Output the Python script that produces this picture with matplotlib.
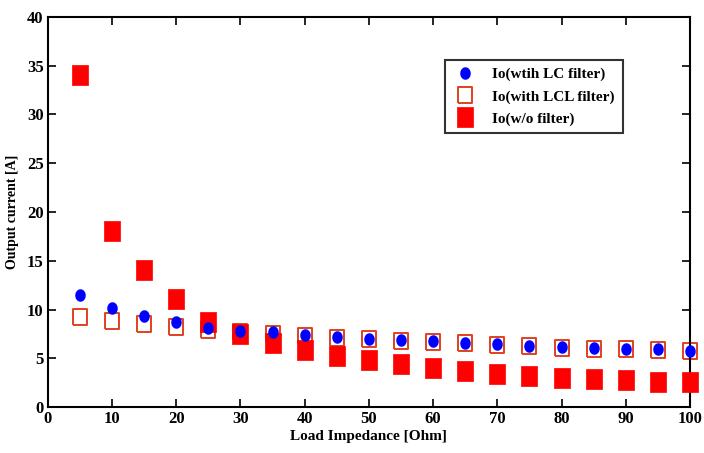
import matplotlib
matplotlib.use("Agg")
import matplotlib.pyplot as plt
import numpy as np

impedance = [5, 10, 15, 20, 25, 30, 35, 40, 45, 50, 55, 60, 65, 70, 75, 80, 85, 90, 95, 100]
io_lc = [11.5, 10.2, 9.3, 8.7, 8.1, 7.8, 7.7, 7.4, 7.2, 7.0, 6.85, 6.75, 6.6, 6.45, 6.3, 6.15, 6.05, 5.95, 5.9, 5.75]
io_lcl = [9.2, 8.8, 8.5, 8.2, 7.9, 7.7, 7.5, 7.3, 7.1, 6.95, 6.8, 6.7, 6.55, 6.4, 6.25, 6.1, 6.0, 5.9, 5.8, 5.7]
io_wo = [34.0, 18.05, 14.05, 11.1, 8.7, 7.5, 6.6, 5.85, 5.2, 4.8, 4.4, 4.0, 3.7, 3.4, 3.2, 3.0, 2.9, 2.75, 2.6, 2.55]

labels = ["Io(wtih LC filter)", "Io(with LCL filter)", "Io(w/o filter)"]
xticks = [0, 10, 20, 30, 40, 50, 60, 70, 80, 90, 100]
yticks = [0, 5, 10, 15, 20, 25, 30, 35, 40]

plt.rcParams['font.family'] = ['Liberation Serif', 'DejaVu Serif']
plt.rcParams['font.weight'] = 'bold'

fig = plt.figure(figsize=(7.04, 4.53), dpi=100)
ax = fig.add_axes([0.068, 0.1015, 0.912, 0.861])

rect_open = [(-0.41, -0.5), (0.41, -0.5), (0.41, 0.5), (-0.41, 0.5), (-0.41, -0.5)]
rect_fill = [(-0.39, -0.5), (0.39, -0.5), (0.39, 0.5), (-0.39, 0.5), (-0.39, -0.5)]

h2, = ax.plot(impedance, io_lcl, linestyle='none', marker=rect_open, markersize=12,
              markerfacecolor='white', markeredgecolor='#e04020', markeredgewidth=1.4,
              zorder=2, clip_on=False)
h3, = ax.plot(impedance, io_wo, linestyle='none', marker=rect_fill, markersize=14.5,
              markerfacecolor='#ff0000', markeredgecolor='#ff0000', markeredgewidth=0.5,
              zorder=3, clip_on=False)
ell = [(0.41 * np.cos(t), 0.5 * np.sin(t)) for t in np.linspace(0, 2 * np.pi, 41)]
h1, = ax.plot(impedance, io_lc, linestyle='none', marker=ell, markersize=8,
              markerfacecolor='#0000ff', markeredgecolor='#0000ff', zorder=4, clip_on=False)

ax.set_xlim(0, 100)
ax.set_ylim(0, 40)
ax.set_xticks(xticks)
ax.set_yticks(yticks)
ax.tick_params(direction='in', top=True, right=True, length=6, width=1.2,
               labelsize=12, pad=3)
for lab in ax.get_xticklabels() + ax.get_yticklabels():
    lab.set_fontweight('bold')
for s in ax.spines.values():
    s.set_linewidth(1.5)

ax.set_xlabel("Load Impedance [Ohm]", fontsize=11, fontweight='bold', labelpad=2)
ax.set_ylabel("Output current [A]", fontsize=10, fontweight='bold', labelpad=6)

leg = ax.legend([h1, h2, h3], labels, loc='upper right', bbox_to_anchor=(0.907, 0.91),
                frameon=True, fancybox=False, edgecolor='black', fontsize=11,
                handlelength=1.6, borderpad=0.5, labelspacing=0.55, markerscale=1.0,
                handletextpad=1.0)
leg.get_frame().set_linewidth(1.5)
for t in leg.get_texts():
    t.set_fontweight('bold')

fig.savefig("out.png", dpi=100)
